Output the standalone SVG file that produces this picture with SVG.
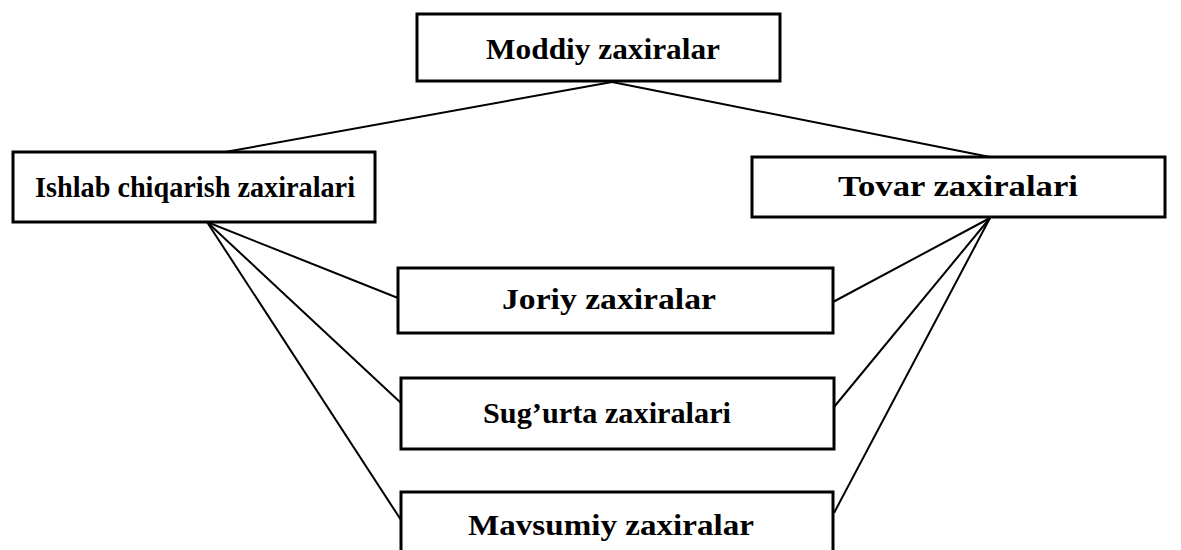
<svg xmlns="http://www.w3.org/2000/svg" width="1181" height="550" viewBox="0 0 1181 550">
<style>
.box{fill:#fff;stroke:#000;stroke-width:3}
.lbl{font-family:"Liberation Serif","Times New Roman",serif;font-size:30px;font-weight:bold;fill:#000;text-anchor:middle}
.ln{stroke:#000;stroke-width:2;fill:none}
</style>
<rect width="1181" height="550" fill="#fff"/>
<g id="connectors">
<line class="ln" x1="612" y1="82" x2="225" y2="152"/>
<line class="ln" x1="612" y1="82" x2="990" y2="157"/>
<line class="ln" x1="207" y1="222" x2="398" y2="298"/>
<line class="ln" x1="207" y1="222" x2="401" y2="403"/>
<line class="ln" x1="207" y1="222" x2="401" y2="520"/>
<line class="ln" x1="990" y1="218" x2="833" y2="302"/>
<line class="ln" x1="990" y1="218" x2="834" y2="407"/>
<line class="ln" x1="990" y1="218" x2="834" y2="513"/>
</g>
<g id="moddiy">
<rect class="box" x="417" y="14" width="363" height="67"/>
<text class="lbl" x="603" y="59" textLength="234" lengthAdjust="spacingAndGlyphs">Moddiy zaxiralar</text>
</g>
<g id="ishlab">
<rect class="box" x="13" y="152" width="362" height="70"/>
<text class="lbl" x="195" y="197" textLength="320" lengthAdjust="spacingAndGlyphs">Ishlab chiqarish zaxiralari</text>
</g>
<g id="tovar">
<rect class="box" x="752" y="157" width="413" height="60"/>
<text class="lbl" x="958" y="196" textLength="240" lengthAdjust="spacingAndGlyphs">Tovar zaxiralari</text>
</g>
<g id="joriy">
<rect class="box" x="398" y="268" width="435" height="65"/>
<text class="lbl" x="609" y="309" textLength="214" lengthAdjust="spacingAndGlyphs">Joriy zaxiralar</text>
</g>
<g id="sugurta">
<rect class="box" x="401" y="378" width="433" height="71"/>
<text class="lbl" x="607" y="423" textLength="248" lengthAdjust="spacingAndGlyphs">Sug’urta zaxiralari</text>
</g>
<g id="mavsumiy">
<rect class="box" x="401" y="492" width="432" height="70"/>
<text class="lbl" x="611" y="535" textLength="286" lengthAdjust="spacingAndGlyphs">Mavsumiy zaxiralar</text>
</g>
</svg>
